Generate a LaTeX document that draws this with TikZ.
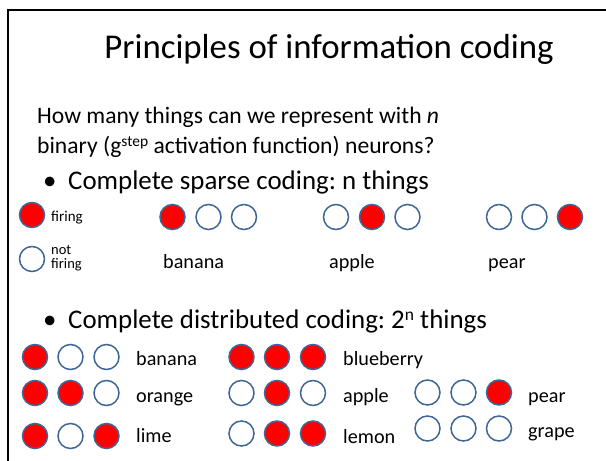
\documentclass[tikz,border=0pt]{standalone}
\usepackage{fontspec}
\setmainfont{Carlito}
\definecolor{ring}{RGB}{62,102,150}
\newcommand{\mysup}[1]{\raisebox{7pt}{\fontsize{15.5}{16}\selectfont #1}}
\newcommand{\mybsup}[1]{\raisebox{8pt}{\fontsize{17.5}{18}\selectfont #1}}
\frenchspacing
\begin{document}
\begin{tikzpicture}[x=1pt,y=-1pt,
  neuron/.style={circle,draw=ring,line width=1.5pt,minimum size=25pt,inner sep=0pt},
  on/.style={neuron,fill=red},
  off/.style={neuron,fill=white},
  ttl/.style={anchor=base,inner sep=0pt,font=\fontsize{34.8}{40}\selectfont},
  body/.style={anchor=base west,inner sep=0pt,font=\fontsize{23.6}{28}\selectfont},
  bul/.style={anchor=base west,inner sep=0pt,font=\fontsize{26.9}{32}\selectfont},
  lbl/.style={anchor=base west,inner sep=0pt,font=\fontsize{20.2}{24}\selectfont},
  small/.style={anchor=base west,inner sep=0pt,font=\fontsize{15}{18}\selectfont},
  frame/.style={line width=2.5pt}]
\useasboundingbox (0,0) rectangle (606,461);
\coordinate (fb) at (8,470);
\coordinate (ftl) at (8,10);
\coordinate (fr) at (615,10);
\draw[frame] (fb) -- (ftl) -- (fr);

\node[ttl] (title) at (329,58) {Principles of information coding};
\node[body] (q1) at (37,123) {How many things can we represent with \textit{n}};
\node[body] (q2) at (37,153) {binary (g\mysup{step} activation function) neurons?};

\node[bul] (b1) at (43,189) {\textbullet};
\node[bul] (t1) at (68,189) {Complete sparse coding: n things};

% legend
\node[on] (lon) at (32,215) {};
\node[small] (lonT) at (51,221) {firing};
\node[off] (loff) at (32,259) {};
\node[small,font=\fontsize{14.5}{16}\selectfont] (loffT1) at (51,254) {not};
\node[small,font=\fontsize{14.5}{16}\selectfont] (loffT2) at (51,268) {firing};

% sparse
\node[on]  (sa1) at (172.5,217) {};
\node[off] (sa2) at (208.5,217) {};
\node[off] (sa3) at (244,217) {};
\node[off] (sb1) at (336,217) {};
\node[on]  (sb2) at (372,217) {};
\node[off] (sb3) at (407.5,217) {};
\node[off] (sc1) at (499,217) {};
\node[off] (sc2) at (534.5,217) {};
\node[on]  (sc3) at (570,217) {};
\node[lbl] (sat) at (163,268) {banana};
\node[lbl] (sbt) at (329,268) {apple};
\node[lbl] (sct) at (488,268) {pear};

\node[bul] (b2) at (43,328) {\textbullet};
\node[bul] (t2) at (68,328) {Complete distributed coding: 2\mybsup{n} things};

% distributed, left column
\node[on]  (d11) at (35,357) {};
\node[off] (d12) at (70.5,357) {};
\node[off] (d13) at (106.5,357) {};
\node[lbl] (d1t) at (136,365) {banana};
\node[on]  (d21) at (35,393) {};
\node[on]  (d22) at (70.5,393) {};
\node[off] (d23) at (106.5,393) {};
\node[lbl] (d2t) at (136,402) {orange};
\node[on]  (d31) at (35,436) {};
\node[off] (d32) at (70.5,436) {};
\node[on]  (d33) at (106.5,436) {};
\node[lbl] (d3t) at (136,442) {lime};

% middle column
\node[on]  (e11) at (241.5,357) {};
\node[on]  (e12) at (277,357) {};
\node[on]  (e13) at (313,357) {};
\node[lbl] (e1t) at (343,365) {blueberry};
\node[off] (e21) at (241.5,393) {};
\node[on]  (e22) at (277,393) {};
\node[off] (e23) at (313,393) {};
\node[lbl] (e2t) at (343,402) {apple};
\node[off] (e31) at (241.5,433.5) {};
\node[on]  (e32) at (277,433.5) {};
\node[on]  (e33) at (313,433.5) {};
\node[lbl] (e3t) at (343,443) {lemon};

% right column
\node[off] (f21) at (427.5,392.5) {};
\node[off] (f22) at (463.5,392.5) {};
\node[on]  (f23) at (499,392.5) {};
\node[lbl] (f2t) at (528,402) {pear};
\node[off] (f31) at (427.5,428.5) {};
\node[off] (f32) at (463.5,428.5) {};
\node[off] (f33) at (499,428.5) {};
\node[lbl] (f3t) at (528,437) {grape};
\end{tikzpicture}
\end{document}
